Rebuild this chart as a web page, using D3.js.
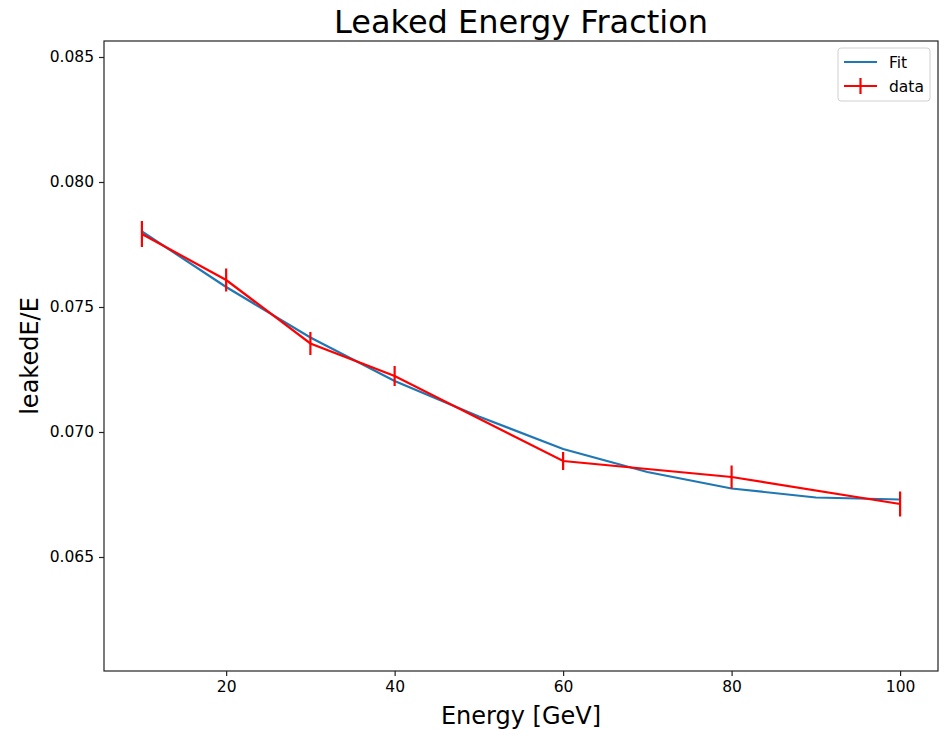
<html>
<head>
<style>
body { margin: 0; background: #fff; }
text { font-family: "DejaVu Sans", sans-serif; fill: #000; }
</style>
</head>
<body>
<div id="vis"></div>
<script src="https://cdn.jsdelivr.net/npm/d3@7/dist/d3.min.js"></script>
<script>
// data
var energies = [10, 20, 30, 40, 60, 80, 100];
var leaked = [0.07792, 0.07608, 0.07354, 0.07224, 0.06884, 0.06820, 0.06712];
var leakedErr = [0.00052, 0.00046, 0.00046, 0.00040, 0.00036, 0.00046, 0.00050];
var fitEnergies = [10, 20, 30, 40, 50, 60, 70, 80, 90, 100];
var fitValues = [0.07802, 0.07580, 0.07378, 0.07204, 0.07062, 0.06932, 0.06840, 0.06774, 0.06738, 0.06730];
var xTicks = [20, 40, 60, 80, 100];
var yTicks = [0.065, 0.070, 0.075, 0.080, 0.085];

var W = 945, H = 729;
var margin = {top: 41, right: 7, bottom: 58, left: 104};
var width = W - margin.left - margin.right,
    height = H - margin.top - margin.bottom;

var x = d3.scaleLinear().domain([5.5, 104.5]).range([0, width]);
var y = d3.scaleLinear().domain([0.06044, 0.08564]).range([height, 0]);

var svg = d3.select("#vis").append("svg")
    .attr("width", W)
    .attr("height", H);
var g = svg.append("g")
    .attr("transform", "translate(" + margin.left + "," + margin.top + ")");

// fit line
var fitData = fitEnergies.map(function(e, i) { return {e: e, v: fitValues[i]}; });
g.append("path")
    .datum(fitData)
    .attr("fill", "none")
    .attr("stroke", "#1f77b4")
    .attr("stroke-width", 2.2)
    .attr("d", d3.line().x(function(d) { return x(d.e); }).y(function(d) { return y(d.v); }));

// data line with error bars
var data = energies.map(function(e, i) { return {e: e, v: leaked[i], err: leakedErr[i]}; });
g.selectAll(".errBar")
    .data(data)
  .enter().append("line")
    .attr("class", "errBar")
    .attr("x1", function(d) { return x(d.e); })
    .attr("x2", function(d) { return x(d.e); })
    .attr("y1", function(d) { return y(d.v - d.err); })
    .attr("y2", function(d) { return y(d.v + d.err); })
    .attr("stroke", "red")
    .attr("stroke-width", 2.2);
g.append("path")
    .datum(data)
    .attr("fill", "none")
    .attr("stroke", "red")
    .attr("stroke-width", 2.2)
    .attr("d", d3.line().x(function(d) { return x(d.e); }).y(function(d) { return y(d.v); }));

// axes
var xAxis = g.append("g")
    .attr("transform", "translate(0," + height + ")")
    .call(d3.axisBottom(x).tickValues(xTicks).tickSize(5).tickPadding(5).tickFormat(d3.format("d")));
var yAxis = g.append("g")
    .call(d3.axisLeft(y).tickValues(yTicks).tickSize(5).tickPadding(5).tickFormat(d3.format(".3f")));
[xAxis, yAxis].forEach(function(a) {
  a.select(".domain").remove();
  a.selectAll("line").attr("stroke", "#222").attr("stroke-width", 1.2);
  a.selectAll("text").style("font-family", "DejaVu Sans").style("font-size", "15.5px").attr("fill", "#000");
});

// frame
g.append("rect")
    .attr("width", width)
    .attr("height", height)
    .attr("fill", "none")
    .attr("stroke", "#222")
    .attr("stroke-width", 1.2);

// title and labels
svg.append("text")
    .attr("x", margin.left + width / 2)
    .attr("y", 33)
    .attr("text-anchor", "middle")
    .style("font-size", "32px")
    .text("Leaked Energy Fraction");
svg.append("text")
    .attr("x", margin.left + width / 2)
    .attr("y", 724)
    .attr("text-anchor", "middle")
    .style("font-size", "24px")
    .text("Energy [GeV]");
svg.append("text")
    .attr("transform", "translate(38," + (margin.top + height / 2) + ") rotate(-90)")
    .attr("text-anchor", "middle")
    .style("font-size", "24px")
    .text("leakedE/E");

// legend
var legend = svg.append("g").attr("transform", "translate(838,48)");
legend.append("rect")
    .attr("width", 92)
    .attr("height", 53)
    .attr("rx", 3)
    .attr("fill", "#fff")
    .attr("fill-opacity", 0.8)
    .attr("stroke", "#d0d0d0")
    .attr("stroke-width", 1);
legend.append("line")
    .attr("x1", 6).attr("x2", 39).attr("y1", 14).attr("y2", 14)
    .attr("stroke", "#1f77b4").attr("stroke-width", 2.2);
legend.append("text").attr("x", 51).attr("y", 19.5).style("font-size", "15.5px").text("Fit");
legend.append("line")
    .attr("x1", 6).attr("x2", 39).attr("y1", 38).attr("y2", 38)
    .attr("stroke", "red").attr("stroke-width", 2.2);
legend.append("line")
    .attr("x1", 22.5).attr("x2", 22.5).attr("y1", 30).attr("y2", 46)
    .attr("stroke", "red").attr("stroke-width", 2.2);
legend.append("text").attr("x", 51).attr("y", 43.5).style("font-size", "15.5px").text("data");
</script>
</body>
</html>
